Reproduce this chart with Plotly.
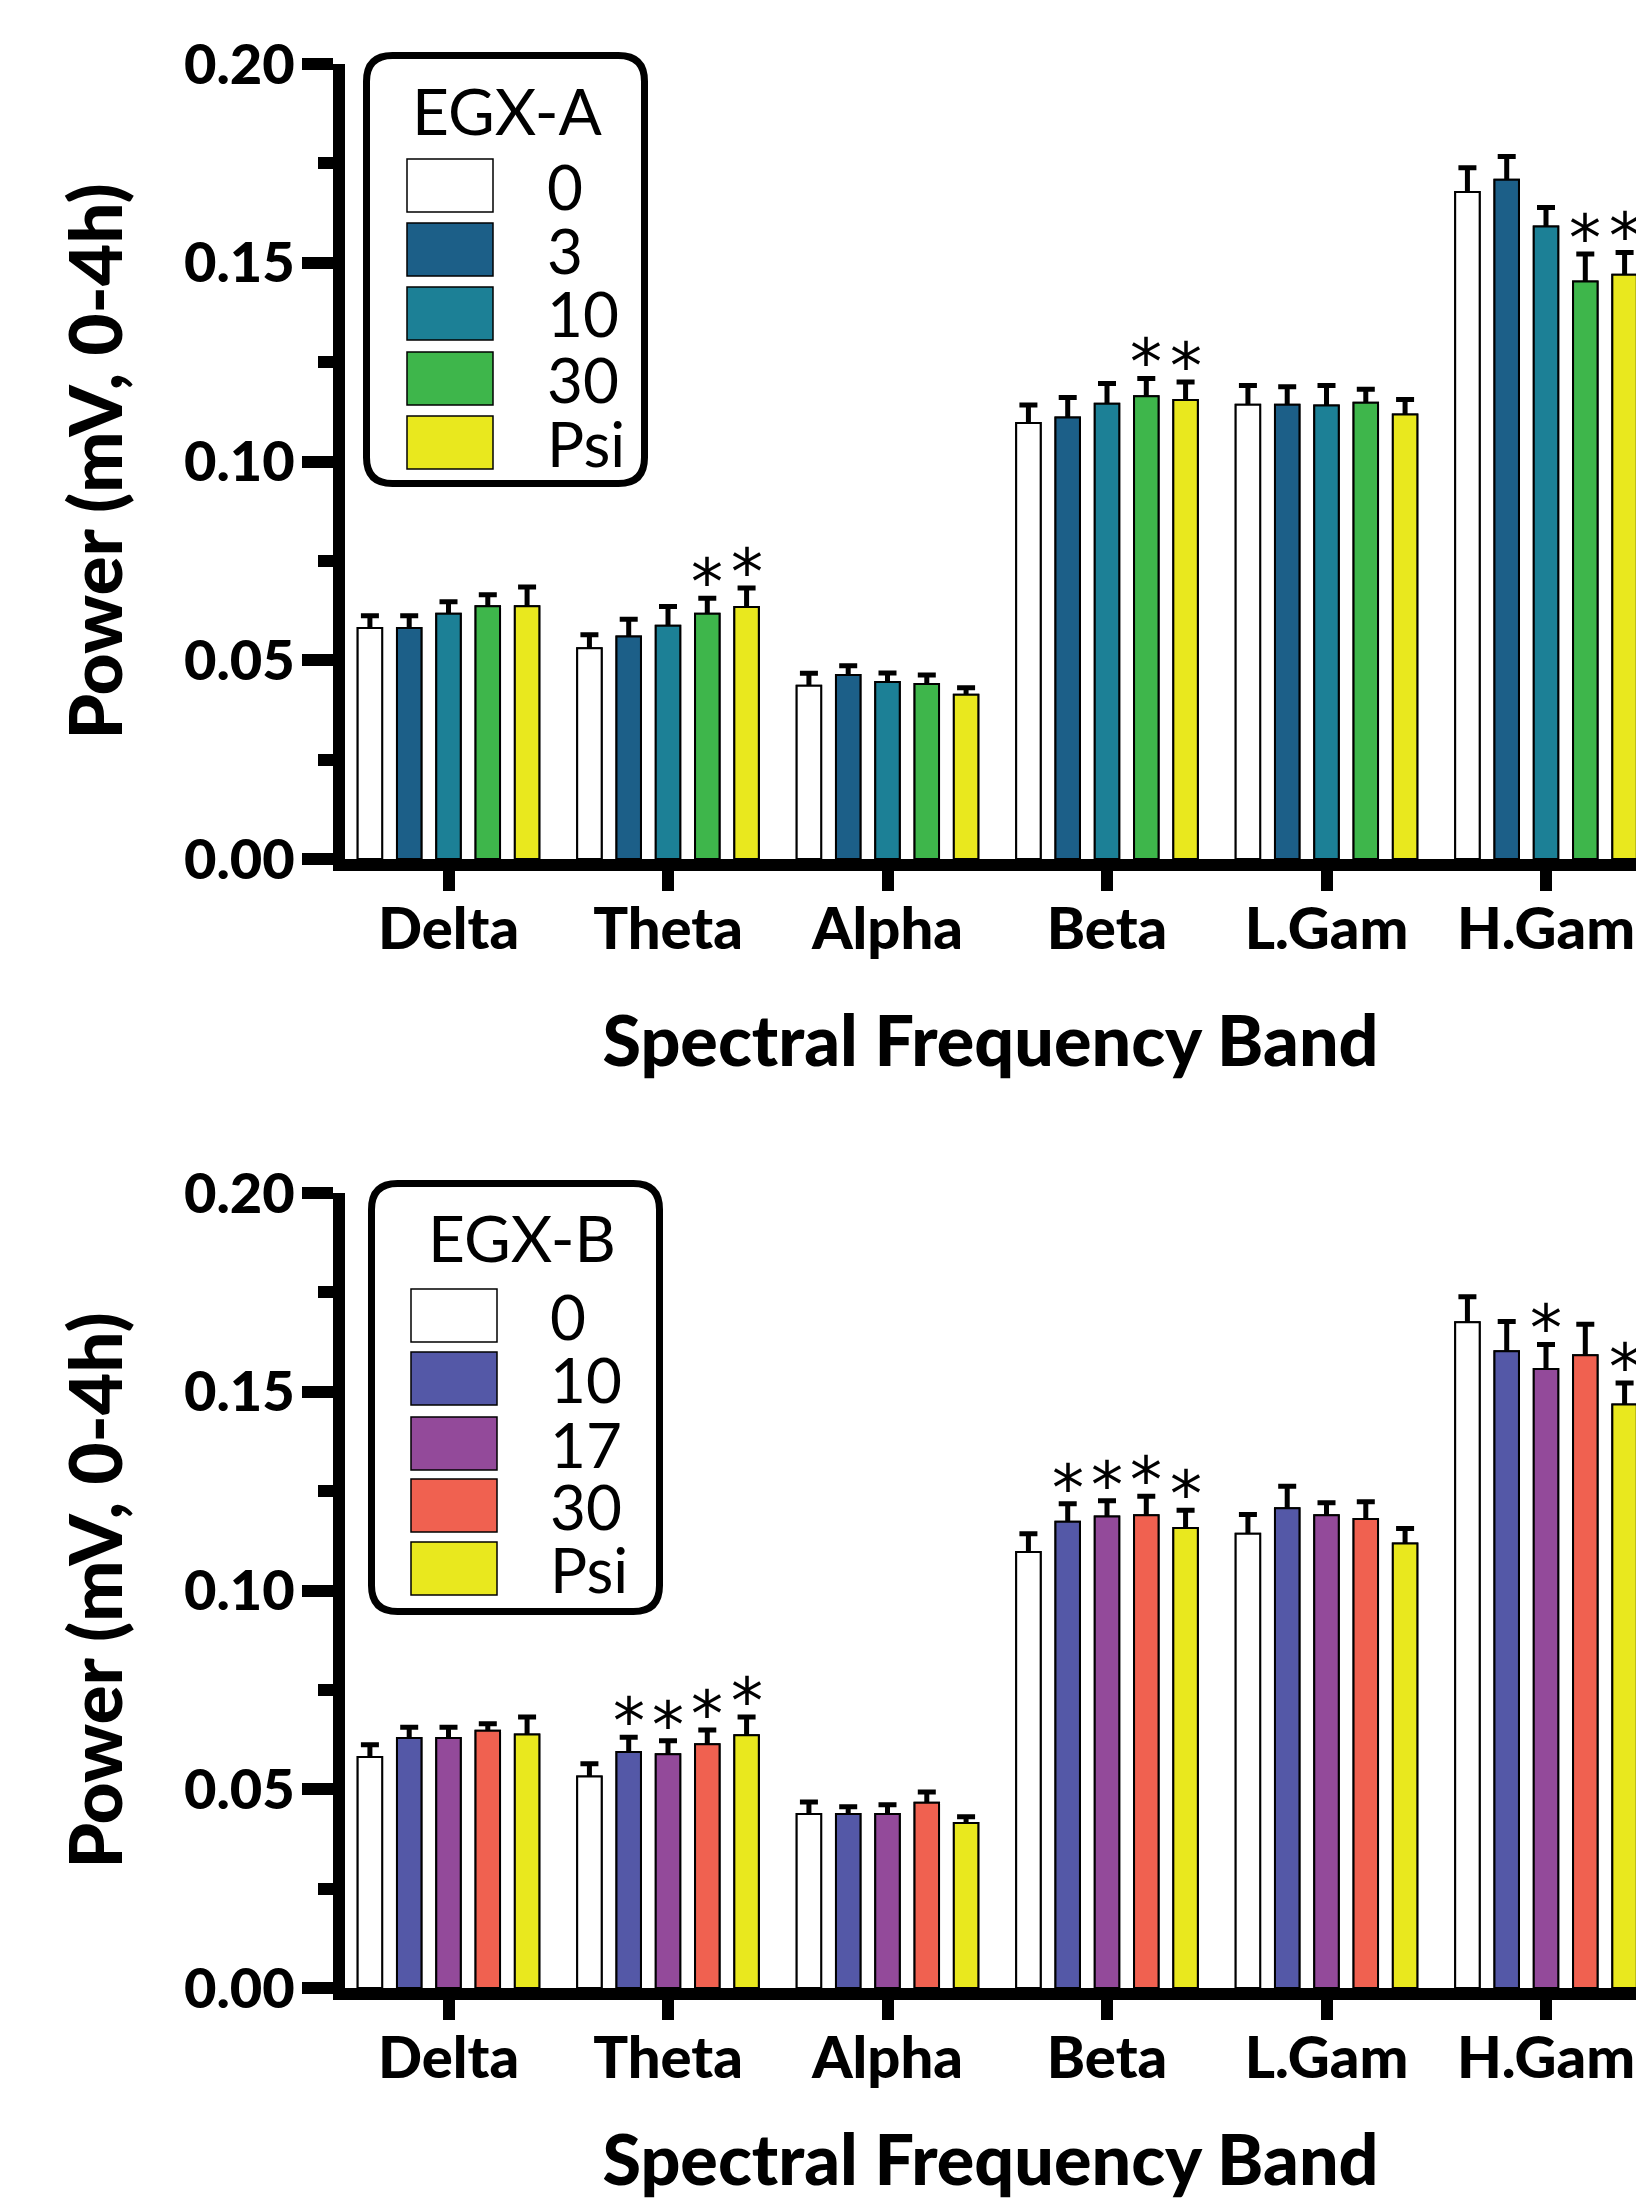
import plotly.graph_objects as go

# ---------------- data ----------------
bands = ["Delta", "Theta", "Alpha", "Beta", "L.Gam", "H.Gam"]

a_title = "EGX-A"
a_names = ["0", "3", "10", "30", "Psi"]
a_colors = ["#FFFFFF", "#1C5F88", "#1C8096", "#3EB64B", "#E9E81E"]
a_vals = [
    [0.0581, 0.0530, 0.0436, 0.1097, 0.1143, 0.1678],   # 0
    [0.0581, 0.0560, 0.0463, 0.1111, 0.1143, 0.1709],   # 3
    [0.0617, 0.0587, 0.0445, 0.1145, 0.1141, 0.1591],   # 10
    [0.0636, 0.0617, 0.0440, 0.1164, 0.1148, 0.1453],   # 30
    [0.0636, 0.0634, 0.0413, 0.1155, 0.1118, 0.1470],   # Psi
]
a_errs = [
    [0.0031, 0.0034, 0.0031, 0.0045, 0.0048, 0.0061],
    [0.0031, 0.0043, 0.0023, 0.0050, 0.0045, 0.0058],
    [0.0030, 0.0048, 0.0023, 0.0051, 0.0050, 0.0048],
    [0.0029, 0.0039, 0.0023, 0.0045, 0.0034, 0.0069],
    [0.0048, 0.0048, 0.0018, 0.0045, 0.0038, 0.0056],
]
a_sig = [
    [0, 0, 0, 0, 0, 0],
    [0, 0, 0, 0, 0, 0],
    [0, 0, 0, 0, 0, 0],
    [0, 1, 0, 1, 0, 1],
    [0, 1, 0, 1, 0, 1],
]

b_title = "EGX-B"
b_names = ["0", "10", "17", "30", "Psi"]
b_colors = ["#FFFFFF", "#5458A7", "#934A9A", "#F06150", "#E9E81E"]
b_vals = [
    [0.0581, 0.0532, 0.0438, 0.1097, 0.1143, 0.1675],   # 0
    [0.0629, 0.0594, 0.0438, 0.1173, 0.1207, 0.1602],   # 10
    [0.0629, 0.0588, 0.0438, 0.1186, 0.1189, 0.1557],   # 17
    [0.0647, 0.0613, 0.0466, 0.1189, 0.1180, 0.1592],   # 30
    [0.0638, 0.0636, 0.0415, 0.1157, 0.1118, 0.1468],   # Psi
]
b_errs = [
    [0.0031, 0.0032, 0.0030, 0.0046, 0.0048, 0.0064],
    [0.0027, 0.0037, 0.0018, 0.0045, 0.0055, 0.0075],
    [0.0027, 0.0034, 0.0023, 0.0040, 0.0032, 0.0062],
    [0.0018, 0.0036, 0.0027, 0.0048, 0.0043, 0.0078],
    [0.0044, 0.0046, 0.0016, 0.0045, 0.0038, 0.0054],
]
b_sig = [
    [0, 0, 0, 0, 0, 0],
    [0, 1, 0, 1, 0, 0],
    [0, 1, 0, 1, 0, 1],
    [0, 1, 0, 1, 0, 0],
    [0, 1, 0, 1, 0, 1],
]

y_title = "Power (mV, 0-4h)"
x_title = "Spectral Frequency Band"

# ---------------- layout constants ----------------
W, H = 1636, 2200
FONT = "Lato"
BARGAP = 0.105
BARGROUPGAP = 0.377


def fx(px):
    return px / W


def fy(py):
    return 1 - py / H


fig = go.Figure()
annotations = []
shapes = []

panels = [
    dict(vals=a_vals, errs=a_errs, sig=a_sig, names=a_names, colors=a_colors,
         title=a_title, ax="", dom=(64, 859),
         box=(366.5, 55.5, 644.5, 483.5), sw_x=(407, 493),
         sw_tops=[159, 223, 287, 352, 416], lab_x=545, title_c=(507, 110)),
    dict(vals=b_vals, errs=b_errs, sig=b_sig, names=b_names, colors=b_colors,
         title=b_title, ax="2", dom=(1193, 1988),
         box=(371.5, 1183.5, 659.5, 1611.5), sw_x=(411, 497),
         sw_tops=[1289, 1352, 1417, 1479, 1542], lab_x=548, title_c=(522, 1237)),
]

nser = 5
slot = (1 - BARGAP) / nser

for p, P in enumerate(panels):
    xa, ya = "x" + P["ax"], "y" + P["ax"]
    for j in range(nser):
        vals, errs = P["vals"][j], P["errs"][j]
        grp = f"p{p}s{j}"
        # bar carrying the (upward) error bar; its lower half is hidden below
        fig.add_trace(go.Bar(
            x=bands, y=vals, name=P["names"][j], offsetgroup=grp,
            marker=dict(color=P["colors"][j], line=dict(color="black", width=2)),
            error_y=dict(type="data", symmetric=False, array=errs, arrayminus=vals,
                         color="black", thickness=5, width=9),
            xaxis=xa, yaxis=ya, showlegend=False, hoverinfo="skip"))
        # identical bar drawn on top, hiding the lower half of the error bar
        fig.add_trace(go.Bar(
            x=bands, y=vals, name=P["names"][j], offsetgroup=grp,
            marker=dict(color=P["colors"][j], line=dict(color="black", width=2)),
            xaxis=xa, yaxis=ya, showlegend=False))
        # significance asterisks
        for i, s in enumerate(P["sig"][j]):
            if s:
                annotations.append(dict(
                    x=i + (j - (nser - 1) / 2) * slot, y=vals[i] + errs[i],
                    xref=xa, yref=ya, text="*", showarrow=False,
                    font=dict(family="DejaVu Sans", size=64, color="black"),
                    xanchor="center", yanchor="middle", yshift=16))

    # ----- legend box drawn manually -----
    x0, y0, x1, y1 = P["box"]
    r = 26
    pts = [("M", x0 + r, y0), ("L", x1 - r, y0), ("Q", x1, y0, x1, y0 + r),
           ("L", x1, y1 - r), ("Q", x1, y1, x1 - r, y1), ("L", x0 + r, y1),
           ("Q", x0, y1, x0, y1 - r), ("L", x0, y0 + r), ("Q", x0, y0, x0 + r, y0)]
    path = ""
    for seg in pts:
        cmd = seg[0]
        coords = seg[1:]
        parts = []
        for k in range(0, len(coords), 2):
            parts.append(f"{fx(coords[k]):.6f},{fy(coords[k + 1]):.6f}")
        path += cmd + " " + " ".join(parts) + " "
    path += "Z"
    shapes.append(dict(type="path", path=path, xref="paper", yref="paper",
                       line=dict(color="black", width=7), fillcolor="white",
                       layer="above"))
    annotations.append(dict(x=fx(P["title_c"][0]), y=fy(P["title_c"][1]),
                            xref="paper", yref="paper", text=P["title"],
                            showarrow=False, xanchor="center", yanchor="middle",
                            font=dict(family=FONT, size=64, color="black")))
    sh = 53
    for j in range(nser):
        t = P["sw_tops"][j]
        shapes.append(dict(type="rect", xref="paper", yref="paper",
                           x0=fx(P["sw_x"][0]), x1=fx(P["sw_x"][1]),
                           y0=fy(t), y1=fy(t + sh),
                           fillcolor=P["colors"][j],
                           line=dict(color="black", width=1.5), layer="above"))
        annotations.append(dict(x=fx(P["lab_x"]), y=fy(t + sh / 2),
                                xref="paper", yref="paper", text=P["names"][j],
                                showarrow=False, xanchor="left", yanchor="middle",
                                font=dict(family=FONT, size=62, color="black")))

x_range = [-0.4715, 5.41]
xdom = [fx(345), 1.0]


def xaxis_def(anchor):
    return dict(domain=xdom, anchor=anchor, type="category", automargin=False,
                categoryorder="array", categoryarray=bands, range=x_range,
                showline=True, linewidth=12, linecolor="black",
                ticks="outside", ticklen=20, tickwidth=12, tickcolor="black",
                tickfont=dict(family=FONT, size=58, color="black", weight=900),
                ticklabelstandoff=-12,
                title=dict(text=x_title, standoff=62,
                           font=dict(family=FONT, size=70, color="black", weight=900)),
                showgrid=False, zeroline=False, fixedrange=True)


def yaxis_def(anchor, dom):
    return dict(domain=[fy(dom[1]), fy(dom[0])], anchor=anchor, range=[0, 0.2],
                automargin=False,
                dtick=0.05, tick0=0, tickformat=".2f",
                showline=True, linewidth=12, linecolor="black",
                ticks="outside", ticklen=31, tickwidth=12, tickcolor="black",
                minor=dict(dtick=0.025, tick0=0, ticks="outside", ticklen=15,
                           tickwidth=12, tickcolor="black"),
                tickfont=dict(family=FONT, size=56, color="black", weight=900),
                ticklabelstandoff=-4,
                title=dict(text=y_title, standoff=42,
                           font=dict(family=FONT, size=73, color="black", weight=900)),
                showgrid=False, zeroline=False, fixedrange=True)


fig.update_layout(
    width=W, height=H, margin=dict(l=0, r=0, t=0, b=0, pad=0, autoexpand=False),
    paper_bgcolor="white", plot_bgcolor="white",
    barmode="group", bargap=BARGAP, bargroupgap=BARGROUPGAP,
    showlegend=False,
    xaxis=xaxis_def("y"), yaxis=yaxis_def("x", panels[0]["dom"]),
    xaxis2=xaxis_def("y2"), yaxis2=yaxis_def("x2", panels[1]["dom"]),
    annotations=annotations, shapes=shapes,
    font=dict(family=FONT, color="black"),
)

fig.write_html("out.html", config={"displayModeBar": False},
               post_script="document.body.style.margin='0px';")
